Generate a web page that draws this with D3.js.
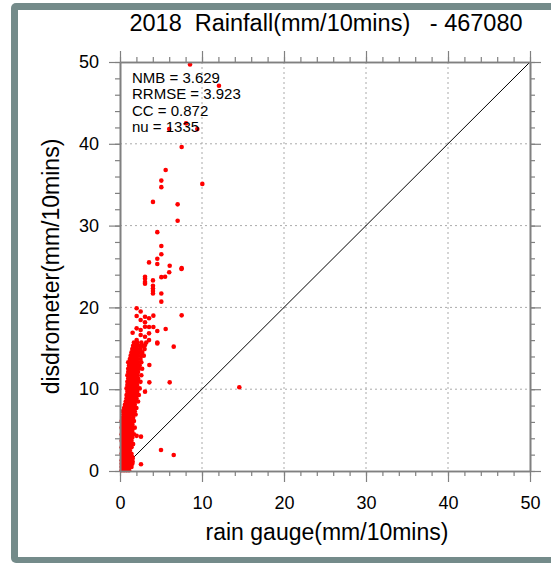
<!DOCTYPE html>
<html>
<head>
<meta charset="utf-8">
<script src="https://cdn.jsdelivr.net/npm/d3@7"></script>
<style>
  body { margin: 0; background: #fff; }
  text { font-family: "Liberation Sans", Arial, Helvetica, sans-serif; }
</style>
</head>
<body>
<div id="chart"></div>
<script>
// dense core of the cloud, read row by row (disdrometer value -> gauge values)
var coreRows = [
  [0.1, [0.2, 0.5, 0.8, 1.1]],
  [0.5, [0.2, 0.5, 0.8, 1.1, 1.4]],
  [0.9, [0.2, 0.5, 0.8, 1.2, 1.5]],
  [1.3, [0.2, 0.5, 0.8, 1.1, 1.4]],
  [1.7, [0.3, 0.6, 0.9, 1.2, 1.5]],
  [2.1, [0.2, 0.5, 0.8, 1.1, 1.4]],
  [2.5, [0.3, 0.6, 0.9, 1.2]],
  [2.9, [0.2, 0.5, 0.8, 1.1, 1.4]],
  [3.3, [0.3, 0.6, 0.9, 1.2, 1.6]],
  [3.7, [0.2, 0.5, 0.8, 1.1, 1.4]],
  [4.1, [0.3, 0.6, 0.9, 1.2, 1.5]],
  [4.5, [0.2, 0.5, 0.8, 1.1, 1.4, 1.7]],
  [4.9, [0.3, 0.6, 0.9, 1.2, 1.5]],
  [5.3, [0.2, 0.5, 0.8, 1.1, 1.4, 1.8]],
  [5.7, [0.3, 0.6, 0.9, 1.2, 1.5]],
  [6.1, [0.2, 0.5, 0.8, 1.1, 1.4, 1.7]],
  [6.5, [0.3, 0.6, 0.9, 1.2, 1.6]],
  [6.9, [0.4, 0.7, 1.0, 1.3, 1.6, 1.9]],
  [7.3, [0.3, 0.6, 0.9, 1.2, 1.5, 1.8]],
  [7.7, [0.5, 0.8, 1.1, 1.4, 1.7, 2.0]],
  [8.1, [0.6, 0.9, 1.2, 1.5, 1.8]],
  [8.5, [0.7, 1.0, 1.3, 1.6, 1.9, 2.2]],
  [8.9, [0.8, 1.1, 1.4, 1.7, 2.0]],
  [9.3, [0.8, 1.1, 1.4, 1.7, 2.0, 2.3]],
  [9.7, [0.9, 1.2, 1.5, 1.8, 2.1]],
  [10.1, [0.8, 1.1, 1.4, 1.7, 2.0, 2.4]],
  [10.5, [0.9, 1.2, 1.5, 1.8, 2.1]],
  [10.9, [0.9, 1.2, 1.5, 1.8, 2.1, 2.5]],
  [11.3, [1.0, 1.3, 1.6, 1.9, 2.2]],
  [11.7, [0.9, 1.2, 1.5, 1.8, 2.1, 2.6]],
  [12.1, [1.0, 1.3, 1.6, 1.9, 2.2]],
  [12.5, [1.0, 1.3, 1.6, 1.9, 2.3, 2.7]],
  [12.9, [1.1, 1.4, 1.7, 2.0, 2.4]],
  [13.3, [1.0, 1.3, 1.6, 1.9, 2.2, 2.6]],
  [13.7, [1.2, 1.5, 1.8, 2.1, 2.5]],
  [14.1, [1.3, 1.6, 1.9, 2.2, 2.6, 2.9]],
  [14.5, [1.4, 1.7, 2.0, 2.3, 2.7]],
  [14.9, [1.5, 1.8, 2.1, 2.5, 3.0]],
  [15.3, [1.6, 2.0, 2.4, 2.8]],
  [15.7, [1.7, 2.1, 2.6, 3.2]]
];

// scattered points read one by one
var gaugeOut = [8.54, 12.07, 6.0, 8.05, 9.43, 7.52, 10.04, 5.57, 5.04, 5.04,
  4.02, 7.03, 7.03, 4.55, 5.04, 5.04, 4.55, 3.54, 4.55, 6.06, 7.52, 6.0, 7.5,
  3.05, 3.05, 3.05, 3.05, 4.02, 5.04, 5.5, 4.02, 4.02, 4.02, 4.02, 5.04, 5.04,
  2.03, 2.52, 2.03, 2.52, 3.05, 3.54, 4.07, 7.52, 2.03, 2.52, 3.05, 3.54, 4.07,
  3.05, 5.57, 4.55, 1.54, 2.52, 3.54, 3.05, 2.03, 3.54, 4.55, 3.05, 6.55, 4.55,
  3.58, 6.06, 3.58, 3.05, 14.55, 2.56, 2.03, 1.54, 5.0, 6.55, 2.56, 1.54, 1.54];
var disdroOut = [49.7, 47.1, 41.8, 42.5, 41.8, 39.6, 35.1, 36.8, 35.5, 34.7,
  32.9, 32.6, 30.6, 29.2, 27.5, 26.5, 25.95, 25.5, 25.3, 25.1, 24.8, 24.3, 24.7,
  23.75, 23.5, 23.1, 22.9, 23.3, 23.7, 23.75, 22.65, 22.3, 22.0, 21.7, 21.7, 20.7,
  19.9, 19.5, 18.95, 18.46, 18.86, 18.67, 18.99, 19.03, 17.44, 17.24, 17.64, 17.6, 17.6,
  18.18, 17.36, 17.11, 16.9, 16.63, 16.83, 16.42, 16.0, 16.0, 15.7, 15.4, 15.2, 15.6,
  12.96, 10.84, 10.84, 9.7, 10.23, 4.2, 4.3, 3.26, 2.57, 1.96, 0.82, 1.55, 1.14];

var xTicks = [0, 10, 20, 30, 40, 50];
var yTicks = [0, 10, 20, 30, 40, 50];
var statLines = ["NMB = 3.629", "RRMSE = 3.923", "CC = 0.872", "nu = 1335"];

var points = [];
coreRows.forEach(function(r) {
  r[1].forEach(function(g) { points.push({ g: g, d: r[0] }); });
});
gaugeOut.forEach(function(g, i) { points.push({ g: g, d: disdroOut[i] }); });

var svgWidth = 551, svgHeight = 563;
var margin = { top: 62, left: 120 };
var width = 410, height = 409;

var svg = d3.select("#chart").append("svg")
  .attr("width", svgWidth)
  .attr("height", svgHeight);

// frame around the plot
svg.append("rect").attr("x", 11).attr("y", 3).attr("width", 620).attr("height", 560)
  .attr("rx", 5).attr("fill", "#748b8a");
svg.append("rect").attr("x", 18).attr("y", 10).attr("width", 620).attr("height", 547)
  .attr("fill", "#fff");

var chartGroup = svg.append("g")
  .attr("transform", `translate(${margin.left}, ${margin.top})`);

var x = d3.scaleLinear().domain([0, 50]).range([0, width]);
var y = d3.scaleLinear().domain([0, 50]).range([height, 0]);

// grid
var gridTicks = [10, 20, 30, 40];
chartGroup.selectAll(".vgrid").data(gridTicks).enter().append("line")
  .attr("x1", d => x(d)).attr("x2", d => x(d))
  .attr("y1", 0).attr("y2", height)
  .attr("stroke", "#aaa").attr("stroke-width", 1).attr("stroke-dasharray", "2,3");
chartGroup.selectAll(".hgrid").data(gridTicks).enter().append("line")
  .attr("y1", d => y(d)).attr("y2", d => y(d))
  .attr("x1", 0).attr("x2", width)
  .attr("stroke", "#aaa").attr("stroke-width", 1).attr("stroke-dasharray", "2,3");

// 1:1 line
chartGroup.append("line")
  .attr("x1", x(0)).attr("y1", y(0)).attr("x2", x(50)).attr("y2", y(50))
  .attr("stroke", "#000").attr("stroke-width", 1);

// points
chartGroup.selectAll("circle").data(points).enter().append("circle")
  .attr("cx", d => x(d.g))
  .attr("cy", d => y(d.d))
  .attr("r", 2.3)
  .attr("fill", "#ff0000");

// axes
var minor = d3.range(0, 51, 2);
function styleAxis(g) {
  g.select(".domain").attr("stroke", "#808080").attr("stroke-width", 1.6);
  g.selectAll(".tick line").attr("stroke", "#808080").attr("stroke-width", 1.2);
  g.selectAll("text").attr("fill", "#000").style("font-size", "18px")
    .style("font-family", "Liberation Sans, Arial, sans-serif");
}

var bottomMinor = chartGroup.append("g").attr("transform", `translate(0, ${height})`)
  .call(d3.axisBottom(x).tickValues(minor).tickSize(5).tickSizeOuter(0).tickFormat(""));
styleAxis(bottomMinor);
var bottomAxis = chartGroup.append("g").attr("transform", `translate(0, ${height})`)
  .call(d3.axisBottom(x).tickValues(xTicks).tickSize(11).tickSizeOuter(0).tickPadding(14));
styleAxis(bottomAxis);

var topMinor = chartGroup.append("g")
  .call(d3.axisTop(x).tickValues(minor).tickSize(5).tickSizeOuter(0).tickFormat(""));
styleAxis(topMinor);
var topAxis = chartGroup.append("g")
  .call(d3.axisTop(x).tickValues(xTicks).tickSize(11).tickSizeOuter(0).tickFormat(""));
styleAxis(topAxis);

var leftMinor = chartGroup.append("g")
  .call(d3.axisLeft(y).tickValues(minor).tickSize(5).tickSizeOuter(0).tickFormat(""));
styleAxis(leftMinor);
var leftAxis = chartGroup.append("g")
  .call(d3.axisLeft(y).tickValues(yTicks).tickSize(11).tickSizeOuter(0).tickPadding(10));
styleAxis(leftAxis);

var rightMinor = chartGroup.append("g").attr("transform", `translate(${width}, 0)`)
  .call(d3.axisRight(y).tickValues(minor).tickSize(5).tickSizeOuter(0).tickFormat(""));
styleAxis(rightMinor);
var rightAxis = chartGroup.append("g").attr("transform", `translate(${width}, 0)`)
  .call(d3.axisRight(y).tickValues(yTicks).tickSize(11).tickSizeOuter(0).tickFormat(""));
styleAxis(rightAxis);

// stats text
chartGroup.selectAll(".stat").data(statLines).enter().append("text")
  .attr("x", 12)
  .attr("y", (d, i) => 21 + i * 16.3)
  .style("font-size", "15px")
  .attr("fill", "#000")
  .text(d => d);

// title and labels
svg.append("text")
  .attr("x", 326).attr("y", 31)
  .attr("text-anchor", "middle")
  .style("font-size", "23.5px")
  .style("white-space", "pre")
  .attr("xml:space", "preserve")
  .text("2018  Rainfall(mm/10mins)   - 467080");

svg.append("text")
  .attr("x", margin.left + width / 2 + 2).attr("y", 540)
  .attr("text-anchor", "middle")
  .style("font-size", "23px")
  .text("rain gauge(mm/10mins)");

svg.append("text")
  .attr("transform", "rotate(-90)")
  .attr("x", -(margin.top + height / 2)).attr("y", 59)
  .attr("text-anchor", "middle")
  .style("font-size", "23px")
  .text("disdrometer(mm/10mins)");
</script>
</body>
</html>
